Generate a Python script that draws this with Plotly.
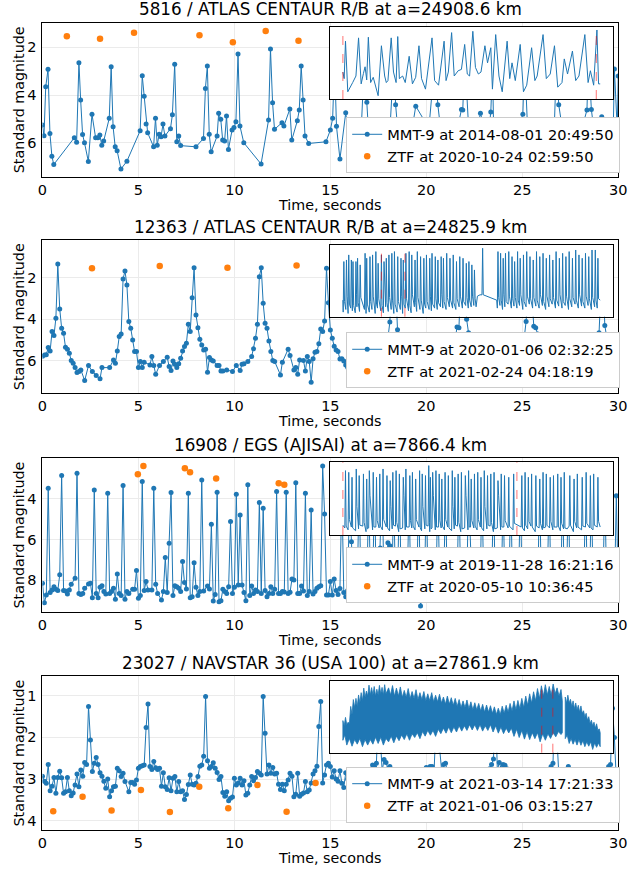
import plotly.graph_objects as go

# ---------------------------------------------------------------- data
# Panel 1 (5816) - irregular sampling
T1 = [0.0,0.08,0.17,0.29,0.39,0.49,0.59,1.66,1.78,1.9,1.99,2.09,2.19,2.39,2.58,2.77,2.89,2.99,3.09,3.19,
      3.48,3.58,3.68,3.79,3.89,4.09,4.4,5.09,5.2,5.3,5.4,5.48,5.79,5.89,5.98,6.08,6.18,6.28,6.38,
      6.67,6.77,6.89,7.0,7.1,7.2,8.0,8.39,8.49,8.59,8.69,8.79,9.1,9.18,9.29,9.39,9.49,9.59,9.69,
      9.88,9.98,10.08,10.19,10.29,10.49,11.39,11.78,11.88,11.99,12.09,12.48,12.58,12.89,12.99,
      13.28,13.38,13.48,13.58,13.68,13.87,14.77,
      15.0,15.12,15.22,15.32,15.5,15.8,16.0,16.3,16.6,16.75,16.9,17.0,17.3,17.6,17.9,18.1,18.3,18.4,
      18.55,18.8,19.2,19.45,19.96,20.1,20.45,20.6,20.8,21.2,21.6,21.83,21.9,22.0,22.2,22.5,22.82,
      23.2,23.36,23.45,23.5,23.8,24.3,24.7,25.03,25.12,25.26,25.6,26.0,26.17,26.4,26.68,26.78,26.9,
      27.2,27.6,28.0,28.37,28.45,28.6,28.8,29.14,29.4,29.73,29.8,29.95,30.0]
M1 = [5.25,5.7,3.65,2.92,5.6,6.55,6.9,5.78,5.97,2.64,4.2,5.64,5.99,6.77,4.8,5.78,5.78,5.67,6.09,5.92,
      4.97,2.81,5.32,6.16,6.32,7.09,6.76,5.49,3.19,4.04,5.21,5.57,6.16,4.96,6.09,5.63,5.74,5.21,5.71,
      5.4,4.82,2.71,5.95,5.71,6.11,6.16,5.81,3.72,2.78,5.63,6.37,5.71,4.76,5.01,5.88,5.92,4.87,6.27,
      5.46,5.35,5.11,2.28,5.29,5.99,6.88,5.04,2.07,4.32,5.43,5.15,5.29,4.58,5.88,
      5.07,4.62,2.78,4.2,5.71,6.02,5.95,
      5.46,4.97,2.6,5.3,6.67,4.74,5.9,6.1,5.6,2.9,4.3,5.7,6.2,5.9,6.0,5.5,2.6,4.4,
      5.8,6.2,5.7,4.46,5.15,5.7,2.5,4.4,5.8,6.3,5.5,4.6,4.62,2.3,5.3,6.0,4.76,
      5.9,4.7,2.8,5.1,6.2,6.0,5.6,4.8,2.4,5.1,6.1,5.8,5.1,5.3,5.05,2.6,4.4,
      6.0,6.3,5.7,4.62,2.3,4.6,5.9,4.9,6.0,5.88,2.9,5.45,3.2]
Z1_T = [1.27,3.0,4.77,8.18,9.92,11.63,13.34]
Z1_M = [1.53,1.64,1.39,1.49,1.79,1.32,1.72]

# Panels 2-4 - one sample every 0.1 s (None = missing sample)
CADENCE_S = 0.1
M2 = [5.78,5.72,5.70,5.36,5.52,4.59,4.78,3.95,1.34,3.50,
      4.43,4.67,5.34,5.44,5.63,5.98,6.11,6.32,6.56,6.51,
      6.43,None,6.94,None,6.22,None,6.51,None,6.70,None,
      6.86,6.32,None,None,None,6.32,None,5.95,6.11,5.52,
      4.83,4.70,2.06,1.68,2.35,4.11,4.43,4.99,5.55,5.55,
      6.32,6.03,6.32,6.06,None,None,6.19,5.79,6.22,6.64,
      None,6.22,None,6.03,None,5.82,6.27,6.46,6.00,6.16,
      6.32,6.14,5.87,5.52,5.31,5.15,4.24,4.59,2.96,1.52,
      3.79,4.40,4.96,5.23,5.47,5.44,6.54,5.84,5.95,6.00,
      None,6.22,6.22,6.48,6.48,None,6.43,None,None,6.51,
      None,6.22,None,6.46,6.16,6.14,None,6.03,None,5.79,
      5.42,4.91,4.24,1.95,1.52,3.23,4.19,4.43,5.04,5.55,
      5.98,6.03,None,None,6.67,6.06,None,None,5.44,5.74,
      None,6.43,6.32,6.64,5.95,None,5.98,6.48,5.79,6.03,
      7.02,5.90,5.58,5.55,5.18,4.46,4.59,4.08,1.55,3.20,
      4.51,4.91,5.30,5.48,5.55,5.91,5.90,6.00,6.20,6.30,
      6.10,6.40,6.50,6.30,6.60,6.40,6.50,6.20,6.40,6.30,
      6.10,6.20,6.00,5.90,6.10,5.80,5.60,5.40,5.20,5.00,
      4.90,4.13,2.00,1.60,2.40,4.50,4.77,4.85,5.30,5.60,
      5.90,6.00,6.20,6.10,6.30,6.40,6.20,6.50,6.30,6.40,
      6.60,6.40,6.50,6.30,6.40,6.20,6.10,6.30,6.00,5.90,
      6.00,5.80,5.50,5.20,5.10,5.00,4.37,4.40,2.00,1.50,
      2.50,4.00,4.65,4.78,5.30,5.60,5.70,6.00,6.10,6.30,
      6.20,6.40,6.50,6.30,6.60,6.40,6.50,6.30,6.60,6.40,
      6.20,6.30,6.10,6.20,6.00,5.90,5.70,5.50,5.30,5.10,
      5.00,4.90,4.10,2.30,1.50,3.00,4.33,4.40,4.70,5.10,
      5.40,5.60,5.90,6.00,6.20,6.10,6.30,6.40,6.20,6.50,
      6.40,6.60,6.30,6.50,6.40,6.20,6.30,6.10,6.20,6.00,
      5.90,5.80,5.60,5.50,5.30,5.20,5.10,5.30,5.00,4.80,
      4.65,2.50,1.60,4.30,4.85,4.90,5.60,5.86,5.95,6.00,
      6.10]
Z2_T = [2.58,6.11,9.64,13.24]
Z2_M = [1.55,1.44,1.52,1.42]

M3 = [8.14,9.10,8.72,3.48,8.60,8.47,8.31,8.44,8.50,7.73,
      2.85,8.50,8.52,8.67,8.47,8.19,None,7.90,2.74,8.64,
      8.69,8.64,8.39,None,8.18,8.14,8.85,3.56,8.64,8.85,
      8.34,8.26,8.55,8.67,3.72,8.64,8.55,8.39,8.93,7.69,
      8.64,8.75,3.34,8.93,8.55,8.64,None,8.44,8.44,7.52,
      8.88,8.75,3.15,8.50,8.06,8.47,None,8.47,3.48,8.19,
      8.64,None,8.96,8.55,6.88,8.60,6.18,3.69,8.75,8.26,
      8.31,8.39,8.55,7.08,8.11,8.42,3.72,8.85,8.80,7.13,
      8.34,8.75,8.55,3.07,8.52,None,8.28,8.42,5.24,9.01,
      8.69,3.67,9.05,9.00,8.44,8.55,8.64,8.31,5.11,8.64,
      8.34,3.77,8.23,4.79,8.23,8.60,9.00,3.31,8.75,8.28,
      8.64,8.47,8.55,4.18,8.64,4.46,8.50,8.80,8.64,8.31,
      8.64,8.44,3.64,8.64,8.64,8.55,8.57,3.67,8.64,8.59,
      7.93,7.98,3.20,8.64,8.64,8.28,8.52,3.72,8.75,8.55,
      4.54,8.67,8.55,8.39,8.31,8.26,2.38,4.74,8.72,8.72,
      8.06,8.72,7.93,8.50,8.70,8.40,3.60,8.60,8.80,8.50,
      3.90,6.11,8.60,8.90,8.40,3.40,8.70,8.50,8.60,8.30,
      3.70,8.80,8.50,3.50,8.60,8.70,6.41,3.30,8.50,8.80,
      6.15,6.30,8.60,3.60,8.70,8.40,3.20,8.80,8.50,6.85,
      8.60,3.80,8.70,8.40,8.90,8.50,3.40,9.26,8.60,8.50,
      3.50,8.70,6.69,6.77,8.60,8.80,3.30,8.50,8.70,8.40,
      3.70,8.60,6.69,8.80,8.50,8.60,8.40,3.40,8.70,8.50,
      8.80,8.60,3.60,6.52,8.70,8.50,8.90,8.40,8.60,3.30,
      8.70,8.50,8.60,8.80,8.40,3.50,8.60,8.70,8.50,8.90,
      3.70,8.60,8.40,8.70,3.40,8.80,8.50,8.60,8.40,3.60,
      8.70,8.50,8.80,8.60,8.40,8.70,8.50,8.60,8.90,3.30,
      8.60,8.50,8.70,8.40,3.50,8.80,8.60,8.50,8.70,8.40,
      8.60,3.60,8.80,8.50,3.40,8.70,8.60,8.40,8.80,8.50,
      8.70,8.60,8.40,3.50,8.90,8.60,3.70,8.50,8.70,8.40,
      8.60,8.80,8.50,3.40,8.60,8.70,8.50,8.60,8.80,3.85,
      8.50]
Z3_T = [4.97,5.26,7.42,7.69,9.05,12.31,12.6]
Z3_M = [2.79,2.38,2.49,2.69,3.0,3.23,3.31]

M4 = [2.93,3.05,3.10,2.65,3.28,3.17,2.96,3.34,2.96,2.81,
      2.97,3.34,3.30,2.96,3.28,3.40,3.33,3.14,2.88,3.18,
      2.78,2.93,2.60,2.65,1.26,2.06,2.82,2.62,2.48,2.65,
      2.85,2.93,3.05,3.22,3.00,3.42,3.28,3.18,3.17,2.74,
      2.80,2.94,2.86,3.06,None,3.30,3.08,3.08,3.12,3.02,
      2.74,2.70,2.68,2.66,1.76,1.20,2.70,2.77,2.58,2.73,
      2.77,2.74,3.17,2.85,3.18,3.25,2.97,3.28,2.98,2.94,
      3.30,3.06,3.30,3.28,3.49,3.37,3.13,2.90,3.12,3.14,
      3.10,2.94,2.69,2.66,2.45,1.02,2.56,2.74,2.70,2.61,
      2.74,2.84,3.01,2.94,3.32,3.41,3.30,3.52,3.46,3.43,
      2.98,3.14,3.09,2.98,3.14,3.04,3.38,3.34,3.14,2.94,
      3.04,2.96,2.82,2.86,2.90,1.02,1.90,2.88,2.66,2.86,
      2.72,2.88,2.86,3.12,3.25,3.12,3.28,3.12,3.02,2.86,
      2.93,3.42,3.36,2.86,3.41,3.36,3.33,3.06,3.30,3.26,
      3.09,2.88,2.80,2.69,1.74,1.14,3.09,2.90,2.66,2.62,
      2.70,2.95,2.80,3.00,3.05,2.80,3.10,3.20,2.85,3.00,
      3.15,2.88,3.10,3.30,3.05,2.90,3.20,3.10,3.00,2.87,
      3.00,2.90,2.66,2.70,2.62,1.30,2.00,2.80,2.53,2.60,
      2.75,2.70,2.83,2.87,3.00,3.10,3.05,3.20,3.10,3.30,
      3.00,2.88,3.20,3.40,3.10,2.90,3.20,3.30,3.00,3.10,
      2.72,2.80,2.70,2.70,2.87,1.70,1.10,2.30,2.80,2.65,
      2.62,2.84,3.00,3.10,3.20,3.00,3.30,3.10,3.40,3.20,
      3.00,2.90,3.10,3.30,3.20,3.40,3.10,3.30,3.00,3.20,
      3.05,3.00,2.95,2.75,2.65,2.52,1.05,2.80,2.60,2.75,
      2.65,2.67,2.75,2.87,3.00,3.10,3.00,3.20,3.30,3.10,
      3.40,3.20,3.30,3.10,3.00,3.20,3.40,3.30,3.10,3.20,
      3.00,3.10,2.95,2.87,3.00,2.70,2.62,1.05,1.95,2.85,
      3.00,2.86,2.95,3.10,2.70,3.00,3.15,3.10,3.30,3.20,
      3.00,3.10,2.78,3.05,3.30,3.20,3.40,3.10,3.20,3.00,
      2.90,3.10,3.00,2.95,2.80,2.70,2.65,1.30,2.00,3.02,
      2.90]
Z4_T = [0.56,2.09,3.6,5.13,6.64,8.17,9.68,11.2,12.72,14.23]
Z4_M = [3.77,3.42,3.75,3.26,3.79,3.18,3.70,3.14,3.78,3.09]

# ---------------- inset (whole pass) light curves, relative time units
IN1_T = [0,4,8,15,30,40,48,56,63,68,73,78,85,93,108,118,128,133,138,148,155,163,168,173,183,191,203,213,
         223,233,241,253,273,281,293,310,316,323,333,341,353,363,373,381,388,398,406,415,423,435,443,453,
         458,468,478,488,503,511,518,528,543,553,563,578,588,595,613,623,635,648,658,671,678,688,703,713,
         723,741,751,758,768,778,783,788]
IN1_M = [5.1,5.6,2.75,6.6,5.9,5.4,2.5,6.0,5.2,4.7,5.7,2.45,5.9,5.5,6.9,3.1,5.4,5.9,5.75,2.5,5.1,5.9,2.4,
         5.6,5.4,5.9,3.9,6.0,5.5,3.1,5.6,6.4,2.5,5.75,6.1,2.75,5.75,5.1,2.1,5.4,5.0,4.9,3.0,5.25,5.4,2.0,
         4.75,5.25,5.1,3.1,4.4,3.25,6.4,2.25,5.4,6.6,2.75,5.6,4.4,5.75,3.0,6.6,6.1,3.25,5.75,5.4,2.25,5.6,
         5.25,3.1,6.25,5.9,4.1,5.25,3.5,5.75,5.4,2.25,5.9,5.0,6.1,1.9,6.0,6.0]
IN1_MARKS = [0, 776]

IN2_T = [0, 1,3,5, 9,11,13, 16,18,20, 24,26,28, 29,31,33, 38,40,42, 43,45,47, 51,53,55, 66,68,70, 71,73,75,
         81,83,85, 89,91,93, 99,101,103, 106,108,110, 116,118,120, 124,126,128, 131,133,135, 139,141,143,
         148,150,152, 156,158,160, 166,168,170, 176,178,180, 183,185,187, 191,193,195, 201,203,205,
         209,211,213, 219,221,223, 226,228,230, 236,238,240, 246,248,250, 254,256,258, 264,266,268,
         271,273,275, 281,283,285, 289,291,293, 299,301,303, 306,308,310, 316,318,320, 326,328,330,
         336,338,340, 346,348,350, 356,358,360, 366,368,370, 376,378,380, 384,386,388, 393,395,397,
         401,403,405, 408,412,420,426,428,430,471,
         473,475,477, 481,483,485, 489,491,493, 496,498,500, 506,508,510, 516,518,520, 524,526,528,
         533,535,537, 541,543,545, 551,553,555, 561,563,565, 571,573,575, 581,583,585, 591,593,595,
         601,603,605, 611,613,615, 621,623,625, 631,633,635, 641,643,645, 651,653,655, 661,663,665,
         671,673,675, 681,683,685, 691,693,695, 701,703,705, 711,713,715, 721,723,725, 731,733,735,
         741,743,745, 751,753,755, 761,763,765, 771,773,775, 779,781,783, 788]
IN2_M = [4.9,
         5.8,2.0,5.0, 5.6,1.88,4.6, 5.9,1.5,5.2, 5.5,1.88,4.8, 5.7,2.0,5.3, 5.85,2.0,4.5, 5.4,1.75,5.1,
         5.75,2.25,4.7, 5.6,1.38,4.9, 5.9,1.75,5.2, 5.8,1.63,5.0, 5.6,1.5,4.6, 5.9,1.25,5.2, 5.5,2.13,4.8,
         5.7,1.5,5.3, 5.85,2.0,4.5, 5.4,1.75,5.1, 5.75,1.5,4.7, 5.6,1.38,4.9, 5.9,1.25,5.2, 5.8,1.63,5.0,
         5.6,1.75,4.6, 5.9,1.88,5.2, 5.5,1.38,4.8, 5.7,1.25,5.3, 5.85,1.5,4.5, 5.4,1.88,5.1, 5.75,1.25,4.7,
         5.6,1.63,4.9, 5.9,1.75,5.2, 5.5,1.5,5.0, 5.6,1.75,4.6, 5.7,1.38,5.2, 5.5,1.63,4.8, 5.6,1.88,5.1,
         5.4,1.63,4.5, 5.5,1.75,5.0, 5.6,1.38,4.7, 5.4,1.75,4.9, 5.5,1.5,5.1, 5.6,2.0,4.8, 5.4,1.63,4.6,
         5.5,1.75,5.0, 5.3,2.13,4.7, 5.5,2.0,4.9, 5.4,2.25,4.6, 5.3,2.63,4.8,
         5.4,4.6,4.5,4.5,1.0,4.5,4.9,
         5.5,1.25,4.7, 5.3,1.38,4.9, 5.6,1.75,4.5, 5.4,1.38,5.0, 5.2,1.25,4.6, 5.5,1.63,4.8, 5.35,2.0,4.7,
         5.5,1.25,4.9, 5.3,1.75,4.5, 5.6,1.5,5.0, 5.4,1.25,4.6, 5.2,1.63,4.8, 5.5,1.88,4.7, 5.35,1.25,4.9,
         5.5,1.63,4.5, 5.3,1.38,5.0, 5.6,1.75,4.6, 5.4,1.5,4.8, 5.2,1.88,4.7, 5.5,1.25,4.9, 5.35,1.75,4.5,
         5.5,1.38,5.0, 5.3,1.63,4.6, 5.6,1.25,4.8, 5.4,1.75,4.7, 5.2,1.13,4.9, 5.5,1.5,4.5, 5.35,1.75,5.0,
         5.5,1.38,4.6, 5.3,1.63,4.8, 5.6,1.13,4.7, 5.4,1.13,4.9, 5.5,1.75,4.8,
         4.9]
IN2_MARKS = [118, 190]

IN3_T = [0, 6,8,10, 16,18,20, 26,28,30, 39,41,43, 48,50,52, 61,63,65, 71,73,75, 79,81,83, 91,93,95,
         101,103,105, 111,113,115, 121,123,125, 133,135,137, 143,145,147, 151,153,155, 161,163,165,
         171,173,175, 183,185,187, 191,193,195, 203,205,207, 211,213,215, 221,223,225, 233,235,237,
         241,243,245, 251,253,255, 261,263,265, 266,268,270, 273,275,277, 283,285,287, 293,295,297,
         301,303,305, 311,313,315, 321,323,325, 333,335,337, 341,343,345, 351,353,355, 361,363,365,
         373,375,377, 383,385,387, 391,393,395, 401,403,405, 411,413,415, 421,423,425, 431,433,435,
         441,443,445, 451,453,455, 461,463,465, 473,475,477, 483,485,487, 493,495,497, 506,508,510,
         521,523,525, 535, 546,548,550, 556,558,560, 566,568,570, 576,578,580, 589,591,593, 601,603,605,
         611,613,615, 621,623,625, 633,635,637, 643,645,647, 656,658,660, 666,668,670, 676,678,680, 687,
         693,695,697, 706,708,710, 716,718,720, 731,733,735, 743,745,747, 756,758,760, 766,768,770,
         779,781,783, 788]
IN3_M = [8.2,
         8.5,2.36,8.3, 8.7,2.54,7.6, 8.4,3.07,8.5, 8.8,2.18,6.2, 8.6,2.89,8.2, 8.3,2.71,7.9, 8.9,3.25,8.6,
         8.5,2.36,5.0, 8.7,2.54,8.4, 8.4,3.07,7.7, 8.5,2.71,8.3, 8.7,2.18,7.6, 8.4,2.89,8.5, 8.8,3.43,6.2,
         8.6,2.54,8.2, 8.3,2.36,7.9, 8.9,2.71,8.6, 8.5,3.07,5.0, 8.7,2.18,8.4, 8.4,2.89,7.7, 8.5,2.54,8.3,
         8.7,3.25,7.6, 8.4,2.36,8.5, 8.8,2.71,6.2, 8.6,2.89,8.2, 8.3,1.82,7.9, 8.9,3.07,8.6, 8.5,2.54,5.0,
         8.7,2.36,8.4, 8.4,2.71,7.7, 8.5,3.25,8.3, 8.7,2.54,7.6, 8.4,2.89,8.5, 8.8,2.36,6.2, 8.6,3.07,8.2,
         8.3,2.71,7.9, 8.9,2.54,8.6, 8.5,2.89,5.0, 8.7,2.36,8.4, 8.4,3.25,7.7, 8.5,2.71,8.3, 8.7,2.54,7.6,
         8.4,3.07,8.5, 8.8,2.36,6.2, 8.6,2.89,8.2, 8.3,2.71,7.9, 8.9,2.54,8.6, 8.5,3.43,5.0, 8.7,2.71,8.4,
         8.4,2.89,7.7, 8.5,3.07,8.3, 8.7,2.71,8.0, 8.2,
         8.4,2.89,8.5, 8.8,2.54,8.2, 8.6,3.07,7.8, 8.3,2.71,8.4, 8.9,2.89,8.3, 8.5,3.25,8.0, 8.7,2.54,8.5,
         8.4,2.71,8.2, 8.5,3.07,7.8, 8.7,2.89,8.4, 8.4,2.71,8.3, 8.8,3.07,8.0, 8.6,2.54,8.5, 8.6,
         8.3,2.89,8.2, 8.9,3.25,7.8, 8.5,2.71,8.4, 8.7,3.07,8.3, 8.4,2.54,8.0, 8.5,2.89,8.5, 8.7,2.71,8.2,
         8.4,3.07,7.8, 8.4]
IN3_MARKS = [0, 533]

# inset 4: dense light curve, read as its ragged upper / lower edges (two segments)
IN4A_UP_T = [0,4,8,12,16,20,24,28,32,36,40,44,48,52,56,60,64,68,72,76,80,84,88,92,96,100,104,108,112,116,
             120,124,128,132,140,146,152,158,164,170,176,182,188,194,200,206,212,218,224,230,236,242,248,
             254,260,266,272,278,284,290,296,302,308,314,320,326,332,338,344,350,356,362,368,374,380,386,
             392,398,404,410,416,422,428,434,440,446,452,458,464,470,476,482,488,494,500,506,512,518,524,
             530,536,542,548,554,560,566,572,578,584,590,596,602,608,614,620,626,632,638,644,650,656,662,
             668,672]
IN4A_UP_M = [2.37,2.6,2.23,2.55,2.44,2.5,1.75,2.1,1.45,1.8,1.4,1.75,1.25,1.6,1.15,1.5,0.95,1.35,1.08,1.3,
             0.82,1.25,0.93,1.25,0.88,1.3,1.0,1.25,0.83,1.2,0.92,1.25,0.8,1.2,0.94,1.25,0.84,1.3,0.95,1.3,
             0.9,1.35,1.05,1.35,0.97,1.4,1.1,1.4,1.02,1.45,1.15,1.45,1.1,1.5,1.2,1.5,1.15,1.55,1.26,1.55,
             1.22,1.6,1.34,1.65,1.3,1.65,1.37,1.7,1.4,1.75,1.45,1.8,1.51,1.8,1.47,1.85,1.55,1.9,1.59,1.9,
             1.62,1.95,1.66,2.0,1.69,2.0,1.72,2.05,1.77,2.1,1.83,2.1,1.74,2.05,1.7,2.0,1.62,1.95,1.51,1.9,
             1.49,1.85,1.4,1.8,1.3,1.7,1.2,1.6,1.11,1.5,0.97,1.4,0.85,1.3,0.8,1.25,0.88,1.25,0.77,1.2,
             0.94,1.3,1.01,1.5]
IN4A_LO_T = [0,6,12,20,28,36,44,52,60,68,76,84,92,100,108,116,124,132,140,148,156,164,172,180,188,196,
             204,212,220,228,236,244,252,260,268,276,284,292,300,308,316,324,332,340,348,356,364,372,380,
             388,396,404,412,420,428,436,444,452,460,468,476,484,492,500,508,516,524,532,540,548,556,564,
             572,580,588,596,604,612,620,628,636,644,652,660,668,672]
IN4A_LO_M = [3.23,3.0,3.44,3.15,3.49,3.2,3.4,3.15,3.51,3.2,3.44,3.2,3.4,3.1,3.37,3.1,3.44,3.15,3.3,3.05,
             3.34,3.05,3.25,3.0,3.2,2.95,3.23,2.95,3.11,2.9,3.16,2.85,3.05,2.8,3.01,2.8,3.06,2.75,2.94,2.7,
             2.92,2.65,2.9,2.65,2.87,2.6,2.83,2.6,2.8,2.55,2.78,2.55,2.8,2.55,2.83,2.6,2.8,2.55,2.87,2.6,
             2.92,2.65,2.94,2.7,2.91,2.7,3.06,2.75,3.11,2.8,3.18,2.85,3.2,2.9,3.16,2.9,3.3,2.95,3.23,2.95,
             3.15,2.9,3.08,2.85,2.98,2.9]
IN4B_UP_T = [681,685,689,693,697,701,705,709,713,717,721,725,729,733,737,741,745,749,753,757,761,765,769,
             773,777,781,785,788]
IN4B_UP_M = [1.34,1.6,1.26,1.6,1.44,1.75,1.51,1.85,1.6,1.9,1.7,2.0,1.73,2.05,1.94,2.2,2.05,2.35,2.2,2.5,
             2.35,2.6,2.44,2.7,2.51,2.8,2.73,2.9]
IN4B_LO_T = [681,687,693,699,705,711,717,723,729,735,741,747,753,759,765,771,777,783,788]
IN4B_LO_M = [3.16,3.0,3.37,3.15,3.4,3.2,3.44,3.2,3.45,3.25,3.51,3.3,3.49,3.3,3.63,3.35,3.54,3.35,3.51]
IN4_MARKS = [609, 643]

# ---------------------------------------------------------------- text
TITLES = ["5816 / ATLAS CENTAUR R/B at a=24908.6 km",
          "12363 / ATLAS CENTAUR R/B at a=24825.9 km",
          "16908 / EGS (AJISAI) at a=7866.4 km",
          "23027 / NAVSTAR 36 (USA 100) at a=27861.9 km"]
MMT_LABELS = ["MMT-9 at 2014-08-01 20:49:50", "MMT-9 at 2020-01-06 02:32:25",
              "MMT-9 at 2019-11-28 16:21:16", "MMT-9 at 2021-03-14 17:21:33"]
ZTF_LABELS = ["ZTF at 2020-10-24 02:59:50", "ZTF at 2021-02-24 04:18:19",
              "ZTF at 2020-05-10 10:36:45", "ZTF at 2021-01-06 03:15:27"]
X_LABEL = "Time, seconds"
Y_LABEL = "Standard magnitude"
X_TICKS = [0, 5, 10, 15, 20, 25, 30]
Y_TICKS = [[2, 4, 6], [2, 4, 6], [4, 6, 8], [1, 2, 3, 4]]

assert len(T1) == len(M1), (len(T1), len(M1))
assert len(IN1_T) == len(IN1_M), (len(IN1_T), len(IN1_M))
assert len(IN2_T) == len(IN2_M), (len(IN2_T), len(IN2_M))
assert len(IN3_T) == len(IN3_M), (len(IN3_T), len(IN3_M))
assert len(IN4A_UP_T) == len(IN4A_UP_M), (len(IN4A_UP_T), len(IN4A_UP_M))
assert len(IN4A_LO_T) == len(IN4A_LO_M), (len(IN4A_LO_T), len(IN4A_LO_M))
assert len(IN4B_UP_T) == len(IN4B_UP_M), (len(IN4B_UP_T), len(IN4B_UP_M))
assert len(IN4B_LO_T) == len(IN4B_LO_M), (len(IN4B_LO_T), len(IN4B_LO_M))


def sample_times(values):
    return [round(i * CADENCE_S, 2) for i in range(len(values))]


MMT = [(T1, M1), (sample_times(M2), M2), (sample_times(M3), M3), (sample_times(M4), M4)]
ZTF = [(Z1_T, Z1_M), (Z2_T, Z2_M), (Z3_T, Z3_M), (Z4_T, Z4_M)]

# ---------------------------------------------------------------- layout (pixels)
W, H = 638, 869
FONT = "DejaVu Sans"
BLUE = "#1f77b4"
ORANGE = "#ff7f0e"
MAIN_X = (38.3, 627.0)
MAIN_Y = [(22.5, 176.7), (240.0, 393.0), (458.0, 611.7), (675.7, 830.0)]
Y_RANGES = [(7.41, 0.96), (7.54, 0.19), (9.54, 1.99), (4.22, 0.52)]
INSET_X = (332.3, 621.7)
INSET_Y = [(26.7, 99.0), (245.0, 316.7), (462.3, 535.0), (680.7, 752.7)]
LEGEND_BOTTOM = [173.3, 388.3, 603.3, 822.7]
LEGEND_RIGHT = 629.0


def fx(px):
    return px / W


def fy(py):
    return 1 - py / H


fig = go.Figure()
layout = dict(width=W, height=H, margin=dict(l=0, r=0, t=0, b=0),
              paper_bgcolor="white", plot_bgcolor="white",
              font=dict(family=FONT, size=14, color="black"),
              annotations=[], shapes=[])

for i in range(4):
    n = i + 1
    sx = "" if n == 1 else str(n)
    xa, ya = "x" + sx, "y" + sx
    leg = "legend" + sx
    t, m = MMT[i]
    zt, zm = ZTF[i]
    fig.add_trace(go.Scatter(x=t, y=m, mode="lines+markers", name=MMT_LABELS[i],
                             line=dict(color=BLUE, width=1), marker=dict(color=BLUE, size=5),
                             connectgaps=True, xaxis=xa, yaxis=ya, legend=leg))
    fig.add_trace(go.Scatter(x=zt, y=zm, mode="markers", name=ZTF_LABELS[i],
                             marker=dict(color=ORANGE, size=6.5), xaxis=xa, yaxis=ya, legend=leg))
    top, bot = MAIN_Y[i]
    layout["xaxis" + sx] = dict(domain=[fx(MAIN_X[0]), fx(MAIN_X[1])], anchor=ya, range=[0, 30],
                                tickvals=X_TICKS, ticks="", showgrid=True, gridcolor="#ebebeb",
                                gridwidth=1, zeroline=False, showline=True, mirror=True,
                                linecolor="black", linewidth=1, tickfont=dict(size=14.5),
                                ticklabelstandoff=0)
    layout["yaxis" + sx] = dict(domain=[fy(bot), fy(top)], anchor=xa, range=list(Y_RANGES[i]),
                                tickvals=Y_TICKS[i], ticks="", showgrid=True, gridcolor="#ebebeb",
                                gridwidth=1, zeroline=False, showline=True, mirror=True,
                                linecolor="black", linewidth=1, tickfont=dict(size=14.5),
                                ticklabelstandoff=2)
    layout[leg] = dict(x=fx(LEGEND_RIGHT), xanchor="right", y=fy(LEGEND_BOTTOM[i]), yanchor="bottom",
                       bgcolor="white", bordercolor="#cccccc", borderwidth=1,
                       font=dict(size=14.6, family=FONT), tracegroupgap=0, itemwidth=30)
    cx = fx((MAIN_X[0] + MAIN_X[1]) / 2)
    layout["annotations"].append(dict(text=TITLES[i], x=cx, y=fy(top), xref="paper", yref="paper",
                                      xanchor="center", yanchor="bottom", yshift=1, showarrow=False,
                                      font=dict(size=16.8)))
    layout["annotations"].append(dict(text=Y_LABEL, x=fx(14), y=fy((top + bot) / 2), xref="paper",
                                      yref="paper", xanchor="center", yanchor="middle", textangle=-90,
                                      showarrow=False, font=dict(size=14.3)))
    layout["annotations"].append(dict(text=X_LABEL, x=cx, y=fy(bot + 28), xref="paper", yref="paper",
                                      xanchor="center", yanchor="middle", showarrow=False,
                                      font=dict(size=14.3)))

# insets
INSETS = [(IN1_T, IN1_M, IN1_MARKS), (IN2_T, IN2_M, IN2_MARKS), (IN3_T, IN3_M, IN3_MARKS), (None, None, IN4_MARKS)]
for i in range(4):
    n = i + 5
    xa, ya = "x%d" % n, "y%d" % n
    t, m, marks = INSETS[i]
    if t is not None:
        fig.add_trace(go.Scatter(x=t, y=m, mode="lines", line=dict(color=BLUE, width=1),
                                 showlegend=False, xaxis=xa, yaxis=ya, hoverinfo="skip"))
        all_t, all_m = t, m
    else:
        all_t, all_m = [], []
        for ut, um, lt, lm in [(IN4A_UP_T, IN4A_UP_M, IN4A_LO_T, IN4A_LO_M),
                               (IN4B_UP_T, IN4B_UP_M, IN4B_LO_T, IN4B_LO_M)]:
            px_ = ut + lt[::-1] + [ut[0]]
            py_ = um + lm[::-1] + [um[0]]
            fig.add_trace(go.Scatter(x=px_, y=py_, mode="lines", fill="toself", fillcolor=BLUE,
                                     line=dict(color=BLUE, width=0.8), showlegend=False,
                                     xaxis=xa, yaxis=ya, hoverinfo="skip"))
            all_t += ut + lt
            all_m += um + lm
    t0, t1 = min(all_t), max(all_t)
    vals = [v for v in all_m if v is not None]
    m0, m1 = min(vals), max(vals)
    pt, pm = 0.05 * (t1 - t0), 0.05 * (m1 - m0)
    top, bot = INSET_Y[i]
    layout["xaxis%d" % n] = dict(domain=[fx(INSET_X[0]), fx(INSET_X[1])], anchor=ya,
                                 range=[t0 - pt, t1 + pt], showgrid=False, zeroline=False,
                                 showticklabels=False, ticks="", showline=True, mirror=True,
                                 linecolor="black", linewidth=1)
    layout["yaxis%d" % n] = dict(domain=[fy(bot), fy(top)], anchor=xa,
                                 range=[m1 + pm, m0 - pm], showgrid=False, zeroline=False,
                                 showticklabels=False, ticks="", showline=True, mirror=True,
                                 linecolor="black", linewidth=1)
    for mk in marks:
        layout["shapes"].append(dict(type="line", xref=xa, yref=ya + " domain", x0=mk, x1=mk,
                                     y0=0, y1=1, line=dict(color="rgba(255,0,0,0.55)", width=1,
                                                           dash="dash"), layer="above"))

fig.update_layout(**layout)
fig.write_html("out.html")
